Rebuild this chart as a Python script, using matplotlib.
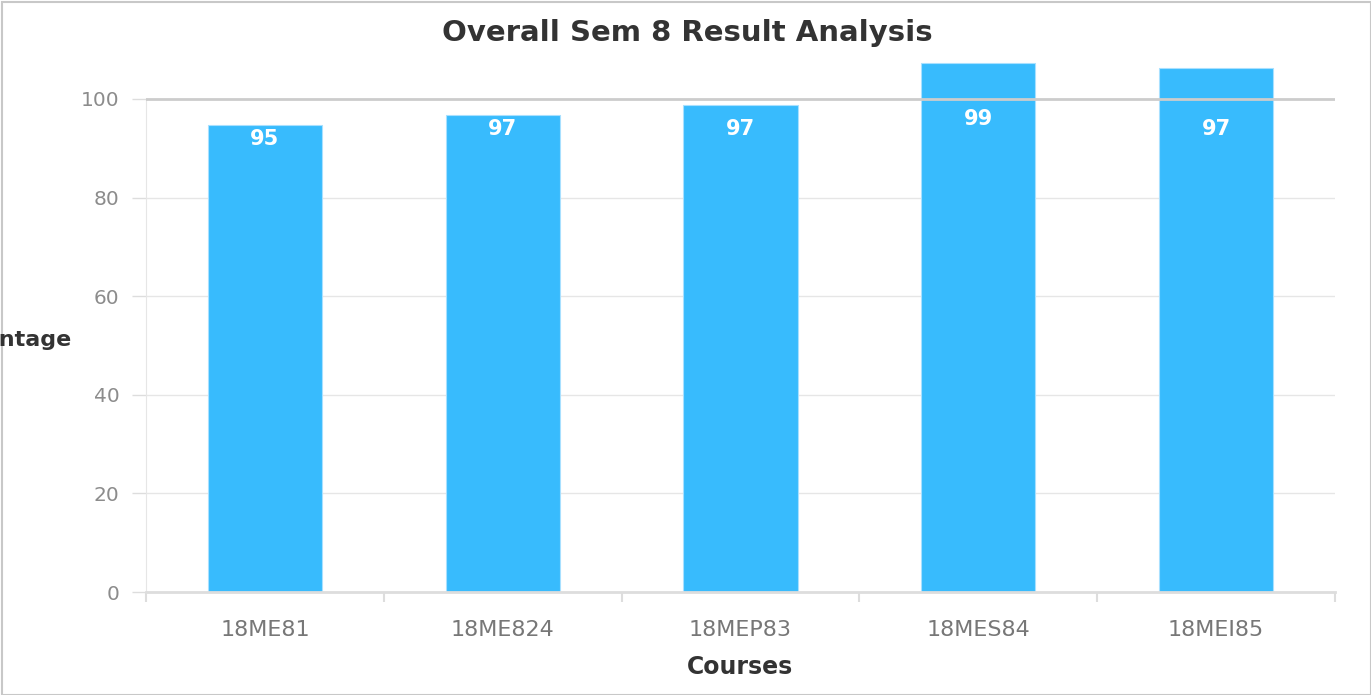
import matplotlib
matplotlib.use("Agg")
import matplotlib.pyplot as plt
from matplotlib.patches import Rectangle
import numpy as np

# -- data ------------------------------------------------------------------
courses = ["18ME81", "18ME824", "18MEP83", "18MES84", "18MEI85"]
bar_heights = [94.7, 96.8, 98.8, 107.3, 106.3]   # drawn bar tops
bar_labels = [95, 97, 97, 99, 97]                # printed values
y_ticks = [0, 20, 40, 60, 80, 100]

BAR = "#38bbfd"
GRID = "#e6e6e6"

fig = plt.figure(figsize=(13.71, 6.95), dpi=100)
fig.patches.append(Rectangle((0.0015, 0), 0.9985, 0.997, transform=fig.transFigure,
                             fill=False, edgecolor="#c8c8c8", lw=1.5))
ax = fig.add_axes([0.1065, 0.1482, 0.8672, 0.7803])

x = np.arange(len(courses))
ax.bar(x, bar_heights, width=0.48, color=BAR, edgecolor="#a8e0ff", lw=0.8, zorder=2)
for xi, lab in zip(x, bar_labels):
    ax.text(xi, lab - 3.1, str(lab), ha="center", va="center", color="white",
            fontsize=15, fontweight="bold", zorder=4)

ax.set_xlim(-0.5, len(courses) - 0.5)
ax.set_ylim(0, 110)
ax.set_yticks(y_ticks)
ax.grid(axis="y", color=GRID, lw=1, zorder=0)
ax.set_axisbelow(True)
ax.axhline(100, color="#cccccc", lw=2, zorder=3)

ax.set_xticks(x)
ax.set_xticklabels(courses)
ax.set_xticks(np.arange(-0.5, len(courses)), minor=True)
ax.tick_params(axis="x", which="major", length=0, pad=20, labelsize=16, labelcolor="#777777")
ax.tick_params(axis="x", which="minor", length=7, width=1.5, color="#dddddd")
ax.tick_params(axis="y", length=10, width=1, color="#dddddd", pad=9,
               labelsize=14.5, labelcolor="#8c8c8c")

for s in ("top", "right"):
    ax.spines[s].set_visible(False)
ax.spines["left"].set_color(GRID)
ax.spines["left"].set_bounds(0, 100)
ax.spines["bottom"].set_color("#dddddd")
ax.spines["bottom"].set_linewidth(2)

ax.set_xlabel("Courses", fontsize=17, fontweight="bold", color="#333333", labelpad=11)
# y label sits partly outside the frame, as in the original
fig.text(71 / 1371, 1 - 340 / 695, "Percentage", ha="right", va="center",
         fontsize=16, fontweight="bold", color="#333333")
fig.text(687 / 1371, 1 - 33 / 695, "Overall Sem 8 Result Analysis", ha="center",
         va="center", fontsize=21, fontweight="bold", color="#333333")

fig.savefig("out.png", dpi=100)
